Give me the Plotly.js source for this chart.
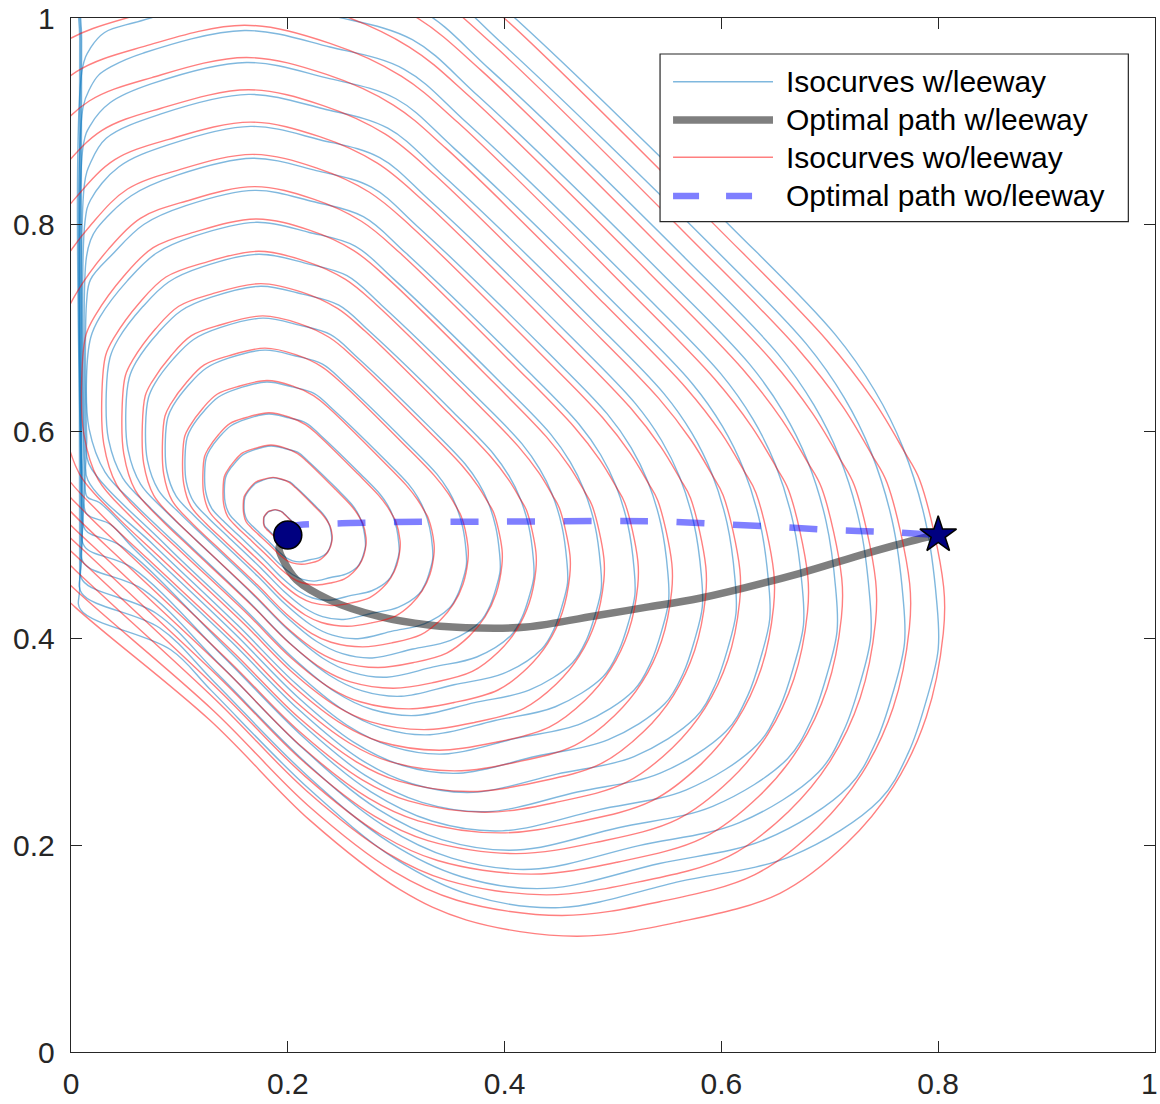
<!DOCTYPE html>
<html>
<head>
<meta charset="utf-8">
<script src="https://cdn.plot.ly/plotly-3.0.1.min.js"></script>
<style>html,body{margin:0;padding:0;background:#fff;}#chart{width:1160px;height:1104px;}</style>
</head>
<body>
<div id="chart"></div>
<script>
// ---------- data ----------
const tickVals = [0, 0.2, 0.4, 0.6, 0.8, 1];
const tickText = ['0', '0.2', '0.4', '0.6', '0.8', '1'];
const legendLabels = ['Isocurves w/leeway', 'Optimal path w/leeway', 'Isocurves wo/leeway', 'Optimal path wo/leeway'];

const startPoint = {x: [0.2], y: [0.5]};
const endPoint = {x: [0.8], y: [0.5]};

// optimal path with leeway (grey)
const pathLeewayX = [0.200, 0.192, 0.1958, 0.2082, 0.2389, 0.285, 0.330, 0.377, 0.420, 0.488, 0.530, 0.580, 0.6725, 0.734, 0.789, 0.800];
const pathLeewayY = [0.500, 0.488, 0.4758, 0.4565, 0.4371, 0.421, 0.413, 0.410, 0.411, 0.4226, 0.430, 0.4388, 0.463, 0.4823, 0.4978, 0.500];
// optimal path without leeway (dashed blue)
const pathNoLeewayX = [0.194, 0.210, 0.250, 0.300, 0.400, 0.500, 0.550, 0.600, 0.650, 0.700, 0.750, 0.800];
const pathNoLeewayY = [0.507, 0.5097, 0.5113, 0.5125, 0.513, 0.5135, 0.513, 0.5105, 0.508, 0.505, 0.503, 0.500];

// isocurves without leeway (red), one entry per level (0 = innermost)
const isoRedX = [
 [.1830,.1805,.1786,.1777,.1776,.1778,.1784,.1802,.1820,.1845,.1883,.1915,.1942,.1963,.2027,.2060,.2074,.2084,.2088,.2096,.2095,.2090,.2080,.2066,.2046,.2016,.1985,.1952,.1932,.1905,.1875,.1830],
 [.1728,.1665,.1615,.1593,.1589,.1596,.1611,.1656,.1701,.1766,.1864,.1947,.2016,.2070,.2234,.2319,.2355,.2378,.2391,.2409,.2409,.2396,.2370,.2334,.2283,.2206,.2126,.2042,.1990,.1921,.1844,.1728],
 [.1626,.1525,.1445,.1408,.1403,.1414,.1437,.1510,.1583,.1688,.1845,.1978,.2090,.2177,.2441,.2577,.2635,.2673,.2693,.2722,.2722,.2701,.2660,.2602,.2519,.2395,.2267,.2131,.2048,.1937,.1812,.1626],
 [.1524,.1385,.1274,.1224,.1217,.1232,.1264,.1364,.1465,.1609,.1826,.2010,.2163,.2284,.2648,.2836,.2915,.2967,.2995,.3036,.3035,.3006,.2950,.2870,.2756,.2585,.2408,.2220,.2106,.1953,.1781,.1524],
 [.1423,.1245,.1104,.1040,.1030,.1049,.1091,.1218,.1347,.1531,.1807,.2041,.2237,.2391,.2855,.3094,.3196,.3262,.3297,.3349,.3348,.3311,.3239,.3138,.2993,.2775,.2549,.2310,.2164,.1968,.1750,.1423],
 [.1321,.1105,.0933,.0855,.0844,.0867,.0917,.1072,.1229,.1452,.1789,.2073,.2311,.2498,.3061,.3352,.3476,.3556,.3599,.3662,.3662,.3617,.3529,.3406,.3229,.2964,.2690,.2399,.2222,.1984,.1718,.1321],
 [.1219,.0965,.0763,.0671,.0658,.0685,.0744,.0926,.1111,.1374,.1770,.2105,.2384,.2605,.3268,.3611,.3756,.3851,.3902,.3976,.3975,.3922,.3819,.3674,.3466,.3154,.2832,.2488,.2280,.2000,.1687,.1219],
 [.1117,.0825,.0592,.0487,.0471,.0502,.0570,.0780,.0994,.1295,.1751,.2136,.2458,.2712,.3475,.3869,.4036,.4145,.4204,.4289,.4288,.4227,.4109,.3942,.3702,.3343,.2973,.2578,.2338,.2016,.1656,.1117],
 [.1015,.0685,.0421,.0302,.0285,.0320,.0397,.0634,.0876,.1217,.1732,.2168,.2532,.2819,.3682,.4128,.4317,.4440,.4506,.4603,.4601,.4532,.4399,.4210,.3939,.3533,.3114,.2667,.2396,.2032,.1625,.1015],
 [.0914,.0545,.0251,.0118,.0099,.0138,.0224,.0488,.0758,.1138,.1713,.2199,.2605,.2926,.3888,.4386,.4597,.4735,.4808,.4916,.4915,.4838,.4688,.4477,.4175,.3722,.3255,.2756,.2455,.2047,.1593,.0914],
 [.0812,.0405,.0080,-.0066,-.0088,-.0045,.0050,.0342,.0640,.1060,.1695,.2231,.2679,.3033,.4095,.4644,.4877,.5029,.5110,.5229,.5228,.5143,.4978,.4745,.4412,.3912,.3396,.2846,.2513,.2063,.1562,.0812],
 [.0710,.0265,-.0090,-.0251,-.0274,-.0227,-.0123,.0196,.0522,.0981,.1676,.2262,.2753,.3140,.4302,.4903,.5158,.5324,.5413,.5543,.5541,.5448,.5268,.5013,.4648,.4102,.3537,.2935,.2571,.2079,.1531,.0710],
 [.0608,.0125,-.0261,-.0435,-.0460,-.0409,-.0297,.0050,.0404,.0903,.1657,.2294,.2826,.3247,.4509,.5161,.5438,.5618,.5715,.5856,.5854,.5753,.5558,.5281,.4885,.4291,.3678,.3024,.2629,.2095,.1499,.0608],
 [.0506,-.0015,-.0431,-.0619,-.0647,-.0592,-.0470,-.0096,.0286,.0824,.1638,.2326,.2900,.3353,.4715,.5420,.5718,.5913,.6017,.6170,.6168,.6059,.5847,.5549,.5121,.4481,.3819,.3114,.2687,.2110,.1468,.0506],
 [.0404,-.0155,-.0602,-.0804,-.0833,-.0774,-.0643,-.0242,.0168,.0746,.1619,.2357,.2974,.3460,.4922,.5678,.5999,.6207,.6319,.6483,.6481,.6364,.6137,.5817,.5358,.4670,.3960,.3203,.2745,.2126,.1437,.0404],
 [.0302,-.0295,-.0772,-.0988,-.1019,-.0956,-.0817,-.0388,.0050,.0667,.1600,.2389,.3047,.3567,.5129,.5936,.6279,.6502,.6621,.6796,.6794,.6669,.6427,.6085,.5594,.4860,.4101,.3292,.2803,.2142,.1405,.0302],
 [.0200,-.0435,-.0943,-.1172,-.1206,-.1138,-.0990,-.0534,-.0068,.0589,.1582,.2420,.3121,.3674,.5336,.6195,.6559,.6796,.6924,.7110,.7107,.6974,.6717,.6353,.5831,.5049,.4242,.3382,.2861,.2158,.1374,.0200],
 [-.1069,-.1338,-.1395,-.1357,-.1164,-.0680,-.0186,.0510,.1563,.2452,.3195,.3781,.5542,.6453,.6839,.7091,.7226,.7423,.7421,.7280,.7006,.6620,.6067,.5239,.4383,.3471,.2919,.2174,.1343,.004,-.04],
 [-.1237,-.1521,-.1582,-.1541,-.1337,-.0826,-.0304,.0432,.1544,.2483,.3268,.3888,.5749,.6712,.7120,.7385,.7528,.7737,.7734,.7585,.7296,.6888,.6304,.5429,.4524,.3560,.2977,.2189,.1312,.004,-.04],
 [-.1405,-.1705,-.1768,-.1725,-.1510,-.0972,-.0422,.0353,.1525,.2515,.3342,.3995,.5956,.6970,.7400,.7680,.7830,.8050,.8047,.7890,.7586,.7156,.6540,.5618,.4665,.3650,.3035,.2205,.1280,.004,-.04]
];
const isoRedY = [
 [.5030,.5054,.5078,.5107,.5143,.5170,.5183,.5208,.5227,.5236,.5245,.5238,.5225,.5206,.5141,.5105,.5086,.5070,.5061,.5027,.5013,.4986,.4964,.4946,.4931,.4922,.4917,.4922,.4932,.4954,.4985,.5030],
 [.5006,.5068,.5128,.5204,.5296,.5367,.5399,.5463,.5510,.5536,.5557,.5539,.5506,.5459,.5290,.5199,.5150,.5110,.5085,.5000,.4962,.4894,.4838,.4792,.4752,.4729,.4717,.4730,.4755,.4811,.4892,.5006],
 [.4982,.5083,.5179,.5300,.5448,.5563,.5614,.5719,.5794,.5835,.5870,.5840,.5787,.5711,.5439,.5292,.5215,.5149,.5110,.4972,.4911,.4802,.4712,.4638,.4573,.4536,.4517,.4538,.4578,.4668,.4798,.4982],
 [.4958,.5097,.5230,.5397,.5601,.5759,.5830,.5974,.6077,.6134,.6182,.6141,.6068,.5963,.5589,.5386,.5279,.5189,.5135,.4944,.4861,.4710,.4586,.4484,.4395,.4343,.4318,.4346,.4401,.4525,.4705,.4958],
 [.4934,.5111,.5281,.5494,.5754,.5955,.6046,.6229,.6361,.6433,.6494,.6443,.6348,.6216,.5738,.5480,.5343,.5228,.5160,.4916,.4810,.4618,.4459,.4330,.4216,.4151,.4118,.4154,.4224,.4382,.4611,.4934],
 [.4910,.5125,.5332,.5591,.5907,.6151,.6262,.6484,.6645,.6732,.6807,.6744,.6629,.6468,.5888,.5574,.5407,.5268,.5184,.4889,.4759,.4527,.4333,.4176,.4037,.3958,.3918,.3963,.4047,.4239,.4518,.4910],
 [.4886,.5140,.5383,.5687,.6059,.6347,.6477,.6739,.6928,.7031,.7119,.7045,.6910,.6720,.6037,.5667,.5471,.5307,.5209,.4861,.4709,.4435,.4207,.4022,.3858,.3765,.3718,.3771,.3870,.4096,.4425,.4886],
 [.4862,.5154,.5434,.5784,.6212,.6543,.6693,.6994,.7212,.7330,.7431,.7346,.7191,.6972,.6187,.5761,.5536,.5347,.5234,.4833,.4658,.4343,.4081,.3868,.3680,.3573,.3518,.3579,.3693,.3954,.4331,.4862],
 [.4838,.5168,.5485,.5881,.6365,.6739,.6909,.7249,.7495,.7630,.7744,.7647,.7472,.7225,.6336,.5855,.5600,.5386,.5258,.4805,.4607,.4251,.3954,.3714,.3501,.3380,.3318,.3387,.3517,.3811,.4238,.4838],
 [.4814,.5183,.5536,.5978,.6517,.6935,.7124,.7505,.7779,.7929,.8056,.7948,.7753,.7477,.6486,.5949,.5664,.5425,.5283,.4777,.4557,.4159,.3828,.3559,.3322,.3187,.3118,.3195,.3340,.3668,.4144,.4814],
 [.4791,.5197,.5587,.6074,.6670,.7131,.7340,.7760,.8063,.8228,.8369,.8250,.8034,.7729,.6635,.6042,.5728,.5465,.5308,.4750,.4506,.4067,.3702,.3405,.3143,.2994,.2919,.3003,.3163,.3525,.4051,.4791],
 [.4767,.5211,.5638,.6171,.6823,.7327,.7556,.8015,.8346,.8527,.8681,.8551,.8315,.7982,.6784,.6136,.5792,.5504,.5333,.4722,.4455,.3975,.3576,.3251,.2965,.2802,.2719,.2811,.2986,.3382,.3957,.4767],
 [.4743,.5225,.5689,.6268,.6976,.7523,.7771,.8270,.8630,.8826,.8993,.8852,.8596,.8234,.6934,.6230,.5857,.5544,.5357,.4694,.4405,.3883,.3450,.3097,.2786,.2609,.2519,.2619,.2809,.3239,.3864,.4743],
 [.4719,.5240,.5740,.6365,.7128,.7719,.7987,.8525,.8913,.9125,.9306,.9153,.8877,.8486,.7083,.6324,.5921,.5583,.5382,.4666,.4354,.3791,.3323,.2943,.2607,.2416,.2319,.2428,.2632,.3097,.3770,.4719],
 [.4695,.5254,.5790,.6461,.7281,.7915,.8203,.8780,.9197,.9424,.9618,.9454,.9158,.8739,.7233,.6417,.5985,.5623,.5407,.4639,.4303,.3699,.3197,.2789,.2428,.2224,.2119,.2236,.2455,.2954,.3677,.4695],
 [.4671,.5268,.5841,.6558,.7434,.8111,.8419,.9035,.9481,.9723,.9930,.9755,.9438,.8991,.7382,.6511,.6049,.5662,.5431,.4611,.4253,.3608,.3071,.2635,.2250,.2031,.1919,.2044,.2278,.2811,.3584,.4671],
 [.4647,.5282,.5892,.6655,.7586,.8307,.8634,.9290,.9764,1.0023,1.0243,1.0056,.9719,.9243,.7532,.6605,.6113,.5702,.5456,.4583,.4202,.3516,.2945,.2481,.2071,.1838,.1720,.1852,.2101,.2668,.3490,.4647],
 [.5790,.6392,.7470,.8368,.8850,.9546,1.0048,1.0322,1.0555,1.0358,1.0000,.9496,.7681,.6699,.6178,.5741,.5481,.4555,.4151,.3424,.2818,.2327,.1892,.1645,.1520,.1660,.1924,.2525,.3397,.466,.511],
 [.5833,.6469,.7608,.8557,.9066,.9801,1.0331,1.0621,1.0867,1.0659,1.0281,.9748,.7831,.6792,.6242,.5780,.5505,.4528,.4101,.3332,.2692,.2172,.1713,.1453,.1320,.1468,.1747,.2382,.3303,.447,.492],
 [.5875,.6545,.7745,.8745,.9281,1.0056,1.0615,1.0920,1.1180,1.0960,1.0562,1.0000,.7980,.6886,.6306,.5820,.5530,.4500,.4050,.3240,.2566,.2018,.1535,.1260,.1120,.1276,.1570,.2240,.3210,.430,.475]
];

// isocurves with leeway (blue), one entry per level (0 = innermost)
const isoBlueX = [
 [.1833,.1809,.1790,.1780,.1779,.1781,.1787,.1804,.1821,.1845,.1883,.1915,.1943,.1967,.2032,.2063,.2075,.2083,.2090,.2093,.2094,.2090,.2085,.2076,.2050,.2016,.1980,.1954,.1931,.1905,.1875,.1833],
 [.1736,.1674,.1626,.1601,.1597,.1604,.1618,.1661,.1706,.1766,.1864,.1947,.2019,.2079,.2246,.2325,.2356,.2378,.2395,.2404,.2405,.2396,.2382,.2360,.2292,.2206,.2113,.2045,.1987,.1920,.1845,.1736],
 [.1639,.1539,.1462,.1422,.1415,.1426,.1449,.1519,.1591,.1688,.1845,.1978,.2094,.2191,.2460,.2587,.2637,.2672,.2699,.2714,.2716,.2701,.2679,.2643,.2534,.2395,.2246,.2137,.2043,.1935,.1814,.1639],
 [.1543,.1404,.1298,.1243,.1233,.1248,.1280,.1376,.1476,.1609,.1826,.2010,.2169,.2303,.2673,.2849,.2918,.2966,.3004,.3024,.3027,.3006,.2976,.2926,.2775,.2585,.2379,.2229,.2099,.1951,.1784,.1543],
 [.1446,.1269,.1134,.1063,.1052,.1071,.1111,.1234,.1361,.1531,.1807,.2041,.2245,.2415,.2887,.3112,.3199,.3261,.3309,.3334,.3337,.3311,.3272,.3210,.3017,.2775,.2513,.2320,.2155,.1966,.1753,.1446],
 [.1349,.1134,.0970,.0884,.0870,.0893,.0942,.1091,.1246,.1452,.1789,.2073,.2320,.2527,.3101,.3374,.3480,.3555,.3614,.3644,.3648,.3617,.3569,.3493,.3259,.2964,.2646,.2412,.2211,.1981,.1723,.1349],
 [.1253,.0999,.0806,.0705,.0688,.0715,.0773,.0948,.1131,.1374,.1770,.2105,.2395,.2639,.3315,.3636,.3761,.3849,.3918,.3954,.3959,.3922,.3866,.3776,.3501,.3154,.2779,.2504,.2267,.1996,.1692,.1253],
 [.1156,.0864,.0642,.0526,.0506,.0538,.0604,.0806,.1016,.1295,.1751,.2136,.2471,.2751,.3529,.3898,.4042,.4143,.4223,.4264,.4270,.4227,.4163,.4060,.3743,.3343,.2912,.2595,.2323,.2012,.1662,.1156],
 [.1059,.0729,.0478,.0346,.0325,.0360,.0435,.0663,.0901,.1217,.1732,.2168,.2546,.2863,.3743,.4161,.4323,.4438,.4528,.4574,.4581,.4532,.4460,.4343,.3985,.3533,.3045,.2687,.2379,.2027,.1631,.1059],
 [.0962,.0594,.0314,.0167,.0143,.0182,.0266,.0521,.0786,.1138,.1713,.2199,.2621,.2975,.3956,.4423,.4605,.4732,.4833,.4884,.4892,.4838,.4757,.4626,.4226,.3722,.3178,.2779,.2435,.2042,.1601,.0962],
 [.0164,.0145,.0145,.018,.0378,.0671,.1060,.1695,.2231,.2697,.3087,.4170,.4685,.4886,.5026,.5137,.5194,.5202,.5143,.5053,.4910,.4468,.3912,.3312,.2870,.2491,.2058,.1570,.0866,.0164],
 [.0156,.0138,.0138,.018,.0236,.0556,.0981,.1676,.2262,.2772,.3199,.4384,.4947,.5167,.5320,.5442,.5505,.5513,.5448,.5350,.5193,.4710,.4102,.3445,.2962,.2547,.2073,.1539,.0769,.0156],
 [.0148,.013,.013,.018,.0440,.0903,.1657,.2294,.2848,.3311,.4598,.5209,.5448,.5615,.5747,.5815,.5824,.5753,.5647,.5477,.4952,.4291,.3578,.3054,.2603,.2088,.1509,.0672,.0262,.0148],
 [.014,.0125,.0125,.018,.0325,.0824,.1638,.2326,.2923,.3423,.4812,.5472,.5729,.5909,.6052,.6125,.6135,.6059,.5944,.5760,.5194,.4481,.3711,.3145,.2659,.2103,.1478,.0575,.0364,.014],
 [.0132,.0115,.0115,.018,.036,.0746,.1619,.2357,.2998,.3535,.5026,.5734,.6010,.6203,.6356,.6435,.6446,.6364,.6241,.6043,.5436,.4670,.3844,.3237,.2715,.2119,.1448,.0464,.0132],
 [.0124,.011,.011,.018,.0257,.037,.0667,.1600,.2389,.3074,.3647,.5239,.5996,.6291,.6498,.6661,.6745,.6757,.6669,.6538,.6327,.5677,.4860,.3977,.3328,.2771,.2134,.1417,.0566,.0124],
 [.0116,.0105,.0105,.018,.031,.0589,.1582,.2420,.3149,.3759,.5453,.6258,.6572,.6792,.6966,.7055,.7067,.6974,.6834,.6610,.5919,.5049,.4111,.3420,.2827,.2149,.1387,.0666,.0116],
 [.0108,.0098,.0098,.0098,.1563,.2452,.3224,.3871,.5667,.6521,.6853,.7086,.7271,.7365,.7378,.7280,.7131,.6893,.6161,.5239,.4244,.3512,.2883,.2165,.1356,.0788,.0108],
 [.010,.009,.009,.009,.1544,.2483,.3300,.3983,.5881,.6783,.7134,.7380,.7575,.7675,.7689,.7585,.7428,.7177,.6403,.5429,.4377,.3603,.2939,.2180,.1326,.0816,.010],
 [.009,.008,.008,.008,.1525,.2515,.3375,.4095,.6095,.7045,.7415,.7675,.7880,.7985,.8000,.7890,.7725,.7460,.6645,.5618,.4510,.3695,.2995,.2195,.1295,.092,.009]
];
const isoBlueY = [
 [.5037,.5061,.5082,.5110,.5143,.5169,.5182,.5205,.5223,.5234,.5243,.5236,.5227,.5206,.5140,.5107,.5089,.5071,.5048,.5023,.5008,.4991,.4975,.4960,.4942,.4934,.4926,.4930,.4941,.4964,.4994,.5037],
 [.5024,.5087,.5141,.5212,.5296,.5362,.5396,.5456,.5501,.5529,.5552,.5535,.5513,.5459,.5290,.5204,.5158,.5112,.5053,.4989,.4949,.4908,.4865,.4827,.4782,.4761,.4740,.4750,.4779,.4836,.4916,.5024],
 [.5011,.5112,.5200,.5314,.5448,.5556,.5610,.5706,.5779,.5824,.5861,.5834,.5798,.5711,.5439,.5300,.5226,.5152,.5058,.4954,.4890,.4824,.4756,.4694,.4622,.4589,.4554,.4571,.4618,.4709,.4837,.5011],
 [.4999,.5138,.5258,.5416,.5601,.5749,.5823,.5957,.6057,.6119,.6170,.6133,.6083,.5963,.5588,.5397,.5295,.5193,.5064,.4920,.4832,.4740,.4647,.4562,.4461,.4416,.4369,.4391,.4456,.4582,.4758,.4999],
 [.4986,.5163,.5317,.5517,.5754,.5943,.6037,.6207,.6335,.6414,.6479,.6432,.6368,.6216,.5737,.5494,.5364,.5234,.5069,.4886,.4773,.4656,.4537,.4429,.4301,.4243,.4183,.4211,.4294,.4454,.4679,.4986],
 [.4973,.5189,.5375,.5619,.5907,.6136,.6251,.6458,.6613,.6710,.6788,.6731,.6653,.6468,.5886,.5591,.5433,.5275,.5074,.4851,.4715,.4573,.4428,.4296,.4141,.4070,.3997,.4031,.4132,.4327,.4600,.4973],
 [.4960,.5214,.5434,.5721,.6059,.6330,.6465,.6708,.6891,.7005,.7097,.7030,.6938,.6720,.6036,.5687,.5501,.5315,.5079,.4817,.4656,.4489,.4318,.4163,.3980,.3897,.3811,.3852,.3970,.4200,.4521,.4960],
 [.4948,.5239,.5492,.5823,.6212,.6523,.6679,.6959,.7169,.7300,.7406,.7329,.7223,.6972,.6185,.5784,.5570,.5356,.5084,.4782,.4598,.4405,.4209,.4031,.3820,.3724,.3625,.3672,.3808,.4073,.4442,.4948],
 [.4935,.5265,.5551,.5925,.6365,.6717,.6893,.7209,.7447,.7595,.7715,.7627,.7508,.7225,.6334,.5881,.5639,.5397,.5089,.4748,.4539,.4321,.4099,.3898,.3659,.3552,.3440,.3492,.3646,.3945,.4363,.4935],
 [.4922,.5290,.5609,.6027,.6517,.6910,.7107,.7460,.7725,.7890,.8024,.7926,.7794,.7477,.6483,.5978,.5708,.5438,.5094,.4714,.4481,.4238,.3990,.3765,.3499,.3379,.3254,.3312,.3484,.3818,.4285,.4922],
 [.569,.595,.727,.747,.7710,.8003,.8185,.8333,.8225,.8079,.7729,.6632,.6074,.5776,.5478,.5099,.4679,.4422,.4154,.3880,.3632,.3339,.3206,.3068,.3133,.3322,.3691,.4206,.4910,.569],
 [.553,.578,.765,.785,.7961,.8281,.8480,.8643,.8524,.8364,.7982,.6781,.6171,.5845,.5519,.5104,.4645,.4363,.4070,.3771,.3499,.3178,.3033,.2882,.2953,.3160,.3563,.4126,.4897,.553],
 [.537,.562,.804,.824,.8559,.8775,.8952,.8823,.8649,.8234,.6931,.6268,.5914,.5560,.5109,.4611,.4305,.3986,.3661,.3367,.3018,.2860,.2696,.2773,.2999,.3436,.4047,.4884,.5314,.537],
 [.521,.546,.840,.860,.8837,.9070,.9261,.9122,.8934,.8486,.7080,.6365,.5983,.5601,.5114,.4576,.4246,.3903,.3552,.3234,.2857,.2687,.2511,.2594,.2837,.3309,.3969,.4871,.5103,.521],
 [.505,.530,.878,.8965,.918,.9365,.9570,.9421,.9219,.8739,.7229,.6461,.6051,.5641,.5120,.4542,.4188,.3819,.3442,.3101,.2697,.2515,.2325,.2414,.2675,.3181,.3890,.4893,.505],
 [.489,.514,.913,.933,.945,.953,.9661,.9879,.9720,.9504,.8991,.7378,.6558,.6120,.5682,.5125,.4507,.4129,.3735,.3333,.2968,.2536,.2342,.2139,.2234,.2513,.3054,.3811,.4682,.489],
 [.473,.498,.951,.971,.986,.9956,1.0188,1.0019,.9790,.9243,.7527,.6655,.6189,.5723,.5130,.4473,.4071,.3651,.3223,.2836,.2376,.2169,.1953,.2054,.2351,.2927,.3732,.4472,.473],
 [.456,.480,.980,1.10,1.0497,1.0318,1.0075,.9496,.7677,.6752,.6258,.5763,.5135,.4439,.4012,.3568,.3114,.2703,.2216,.1996,.1767,.1875,.2189,.2800,.3653,.4241,.456],
 [.4436,.470,.980,1.10,1.0806,1.0617,1.0360,.9748,.7826,.6848,.6326,.5804,.5140,.4404,.3954,.3484,.3005,.2570,.2055,.1823,.1582,.1695,.2027,.2672,.3574,.4103,.4436],
 [.4275,.450,.980,1.10,1.1115,1.0916,1.0645,1.0000,.7975,.6945,.6395,.5845,.5145,.4370,.3895,.3400,.2895,.2437,.1895,.1650,.1396,.1515,.1865,.2545,.3495,.3890,.4275]
];

// ---------- styles ----------
const FONT = 'Liberation Sans, Arial, Helvetica, sans-serif';
const AXC = '#262626';
const BLUE_ISO = 'rgba(0,114,189,0.5)';
const RED_ISO = 'rgba(255,0,0,0.5)';
const GREY_PATH = 'rgba(0,0,0,0.5)';
const BLUE_PATH = 'rgba(0,0,255,0.5)';
const DASH = '28px,28.5px';

const traces = [];
isoBlueX.forEach((xs, k) => {
  traces.push({type: 'scatter', mode: 'lines', x: xs, y: isoBlueY[k], hoverinfo: 'skip', showlegend: false,
    line: {color: BLUE_ISO, width: 1.4, shape: 'spline', smoothing: 1}});
});
traces.push({type: 'scatter', mode: 'lines', x: pathLeewayX, y: pathLeewayY, hoverinfo: 'skip', showlegend: false,
  line: {color: GREY_PATH, width: 7.5, shape: 'spline', smoothing: 1}});
isoRedX.forEach((xs, k) => {
  traces.push({type: 'scatter', mode: 'lines', x: xs, y: isoRedY[k], hoverinfo: 'skip', showlegend: false,
    line: {color: RED_ISO, width: 1.4, shape: 'spline', smoothing: 1}});
});
traces.push({type: 'scatter', mode: 'lines', x: pathNoLeewayX, y: pathNoLeewayY, hoverinfo: 'skip', showlegend: false,
  line: {color: BLUE_PATH, width: 6.5, dash: DASH, shape: 'spline', smoothing: 1}});
traces.push({type: 'scatter', mode: 'markers', x: startPoint.x, y: startPoint.y, hoverinfo: 'skip', showlegend: false, cliponaxis: false,
  marker: {symbol: 'circle', size: 28, color: '#000080', line: {color: '#000000', width: 1.5}}});
traces.push({type: 'scatter', mode: 'markers', x: endPoint.x, y: endPoint.y, hoverinfo: 'skip', showlegend: false, cliponaxis: false,
  marker: {symbol: 'star', size: 27.5, color: '#000080', line: {color: '#000000', width: 1.5}}});

// ---------- legend (drawn in paper coordinates) ----------
const legBox = {x0: 0.5434, x1: 0.9754, y0: 0.8030, y1: 0.9652};
const legRows = [0.9384, 0.9014, 0.8653, 0.8279];
const legSample = {x0: 0.5554, x1: 0.6476, xt: 0.6578};
const legStyles = [
  {color: BLUE_ISO, width: 1.4},
  {color: GREY_PATH, width: 7.5},
  {color: RED_ISO, width: 1.4},
  {color: BLUE_PATH, width: 6.5, dash: '26px,27px'}
];
const shapes = [{type: 'rect', xref: 'paper', yref: 'paper', x0: legBox.x0, x1: legBox.x1, y0: legBox.y0, y1: legBox.y1,
  fillcolor: '#ffffff', line: {color: AXC, width: 1.2}, layer: 'above'}];
const annotations = [];
legendLabels.forEach((lab, i) => {
  shapes.push({type: 'line', xref: 'paper', yref: 'paper', x0: legSample.x0, x1: legSample.x1, y0: legRows[i], y1: legRows[i],
    line: legStyles[i], layer: 'above'});
  annotations.push({xref: 'paper', yref: 'paper', x: legSample.xt, y: legRows[i], xanchor: 'left', yanchor: 'middle',
    text: lab, showarrow: false, font: {family: FONT, size: 30, color: '#000000'}});
});
// the last x tick label sits at the very edge of the figure: draw it right-aligned so it is not cut
const lastX = tickText.length - 1;
annotations.push({xref: 'paper', yref: 'paper', x: 1.0046, y: -0.0300, xanchor: 'right', yanchor: 'middle',
  text: tickText[lastX], showarrow: false, font: {family: FONT, size: 30, color: AXC}});
const xTickText = tickText.map((t, i) => (i === lastX ? '' : t));

const axisCommon = {
  range: [0, 1], tickvals: tickVals, ticks: 'inside', ticklen: 11, tickwidth: 1.2, tickcolor: AXC,
  showline: true, linecolor: AXC, linewidth: 1.2, mirror: 'ticks', showgrid: false, zeroline: false, fixedrange: true,
  ticklabeloverflow: 'allow', tickfont: {family: FONT, size: 30, color: AXC}
};

const layout = {
  width: 1160, height: 1104,
  margin: {l: 71, r: 5, t: 18, b: 52, pad: 0},
  paper_bgcolor: '#ffffff', plot_bgcolor: '#ffffff',
  showlegend: false,
  xaxis: Object.assign({}, axisCommon, {ticktext: xTickText, ticklabelstandoff: 5}),
  yaxis: Object.assign({}, axisCommon, {ticktext: tickText, ticklabelstandoff: 9}),
  shapes: shapes,
  annotations: annotations
};

Plotly.newPlot('chart', traces, layout, {staticPlot: true, displayModeBar: false});
</script>
</body>
</html>
